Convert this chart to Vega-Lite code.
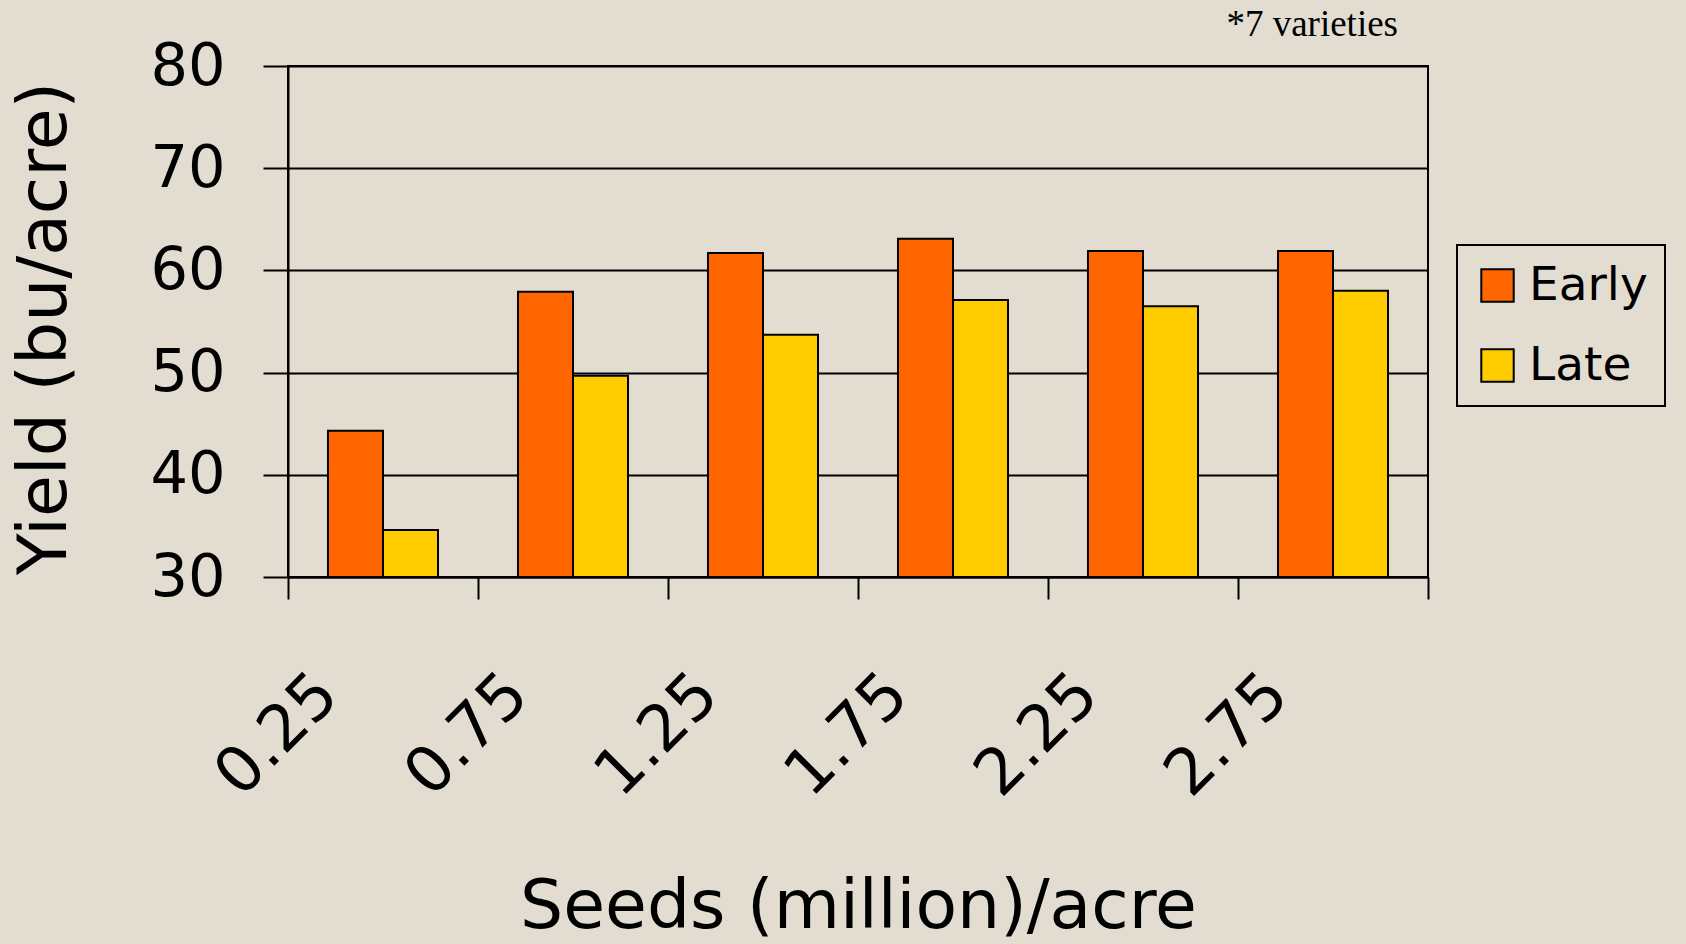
{
  "$schema": "https://vega.github.io/schema/vega-lite/v6.json",
  "autosize": {"type": "none"},
  "padding": {"left": 288, "top": 66, "right": 258, "bottom": 367},
  "width": 1140,
  "height": 511,
  "background": "#E3DDD1",
  "title": {
    "text": "*7 varieties",
    "anchor": "end",
    "frame": "group",
    "font": "Liberation Serif",
    "fontSize": 37,
    "fontWeight": "normal",
    "color": "black",
    "baseline": "alphabetic",
    "offset": 1,
    "dx": -30,
    "dy": 37
  },
  "data": {
    "values": [
      {"seeds": "0.25", "type": "Early", "yield": 44.3},
      {"seeds": "0.25", "type": "Late", "yield": 34.6},
      {"seeds": "0.75", "type": "Early", "yield": 57.9},
      {"seeds": "0.75", "type": "Late", "yield": 49.7},
      {"seeds": "1.25", "type": "Early", "yield": 61.7},
      {"seeds": "1.25", "type": "Late", "yield": 53.7},
      {"seeds": "1.75", "type": "Early", "yield": 63.1},
      {"seeds": "1.75", "type": "Late", "yield": 57.1},
      {"seeds": "2.25", "type": "Early", "yield": 61.9},
      {"seeds": "2.25", "type": "Late", "yield": 56.5},
      {"seeds": "2.75", "type": "Early", "yield": 61.9},
      {"seeds": "2.75", "type": "Late", "yield": 58.0}
    ]
  },
  "mark": {"type": "bar", "stroke": "black", "strokeWidth": 2},
  "encoding": {
    "x": {
      "field": "seeds",
      "type": "nominal",
      "sort": null,
      "scale": {"paddingInner": 0, "paddingOuter": 0},
      "axis": {
        "title": "Seeds (million)/acre",
        "titleFont": "DejaVu Sans",
        "titleFontSize": 68,
        "titleFontWeight": "normal",
        "titleColor": "black",
        "titleX": 570,
        "titleY": 350,
        "titleBaseline": "alphabetic",
        "titleAlign": "center",
        "labelFont": "DejaVu Sans",
        "labelFontSize": 64,
        "labelColor": "black",
        "labelAngle": -45,
        "labelAlign": "right",
        "labelBaseline": "alphabetic",
        "labelOffset": -42,
        "labelPadding": 99,
        "labelOverlap": false,
        "labelBound": false,
        "tickBand": "extent",
        "tickSize": 22,
        "tickWidth": 2,
        "tickColor": "black",
        "domainColor": "black",
        "domainWidth": 2,
        "grid": false
      }
    },
    "xOffset": {"field": "type", "type": "nominal", "scale": {"paddingInner": 0, "paddingOuter": 0.727}},
    "y": {
      "field": "yield",
      "type": "quantitative",
      "scale": {"domain": [30, 80], "zero": false, "nice": false},
      "axis": {
        "values": [30, 40, 50, 60, 70, 80],
        "title": "Yield (bu/acre)",
        "titleFont": "DejaVu Sans",
        "titleFontSize": 68,
        "titleFontWeight": "normal",
        "titleColor": "black",
        "titleX": -223,
        "titleY": 262,
        "titleAngle": -90,
        "titleBaseline": "alphabetic",
        "titleAlign": "center",
        "labelFont": "DejaVu Sans",
        "labelFontSize": 59,
        "labelColor": "black",
        "labelPadding": 38,
        "labelAlign": "right",
        "labelBaseline": "middle",
        "tickSize": 25,
        "tickWidth": 2,
        "tickColor": "black",
        "domainColor": "black",
        "domainWidth": 2,
        "grid": true,
        "gridColor": "black",
        "gridWidth": 2,
        "gridOpacity": 1
      }
    },
    "y2": {"datum": 30},
    "color": {
      "field": "type",
      "type": "nominal",
      "scale": {"domain": ["Early", "Late"], "range": ["#FF6600", "#FFCC00"]},
      "legend": {
        "title": null,
        "orient": "none",
        "legendX": 1169,
        "legendY": 179,
        "padding": 17,
        "strokeColor": "black",
        "symbolType": "square",
        "symbolSize": 1050,
        "symbolStrokeColor": "black",
        "symbolStrokeWidth": 2,
        "symbolOpacity": 1,
        "labelFont": "DejaVu Sans",
        "labelFontSize": 47,
        "labelColor": "black",
        "labelOffset": 8,
        "rowPadding": 32,
        "labelLimit": 400
      }
    }
  },
  "config": {
    "view": {"stroke": "black", "strokeWidth": 2},
    "legend": {"strokeWidth": 2}
  }
}
